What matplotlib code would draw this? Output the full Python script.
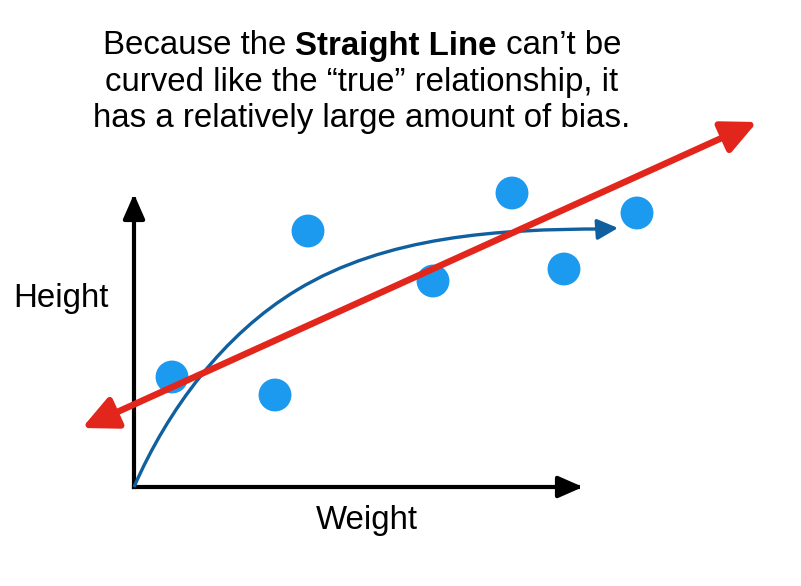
import matplotlib
matplotlib.use("Agg")
import matplotlib.pyplot as plt
from matplotlib.patches import FancyArrowPatch, PathPatch
from matplotlib.path import Path

# data: observed (weight, height) points, in picture units from the axis origin
pts_w = [38, 141, 174, 299, 378, 430, 503]
pts_h = [110, 92, 256, 206, 294, 218, 274]

# the "true" curved relationship: two cubic Bezier pieces (knot, handle, handle, knot, ...)
curve_w = [0, 34, 90, 163, 252, 365, 469]
curve_h = [0, 78, 153, 197, 251, 258, 258]
curve_tip = (484, 259)

# the straight line (double arrow) endpoints
line_w = [-52, 623]
line_h = [59, 365]

# axis arrow extents
x_axis_end = 449
y_axis_end = 293

TITLE = [
    ("Because the ", "Straight Line", " can\u2019t be"),
    "curved like the \u201ctrue\u201d relationship, it",
    "has a relatively large amount of bias.",
]

DOT = "#1b9af0"
CURVE = "#10609f"
RED = "#e3261c"
FONT = "Liberation Sans"
FS = 23.8

fig = plt.figure(figsize=(8.01, 5.86), dpi=100)
ax = fig.add_axes([0, 0, 1, 1])
ax.set_xlim(-134, 801 - 134)
ax.set_ylim(487 - 586, 487)
ax.axis("off")

# axes arrows
for end in [(x_axis_end, 0), (0, y_axis_end)]:
    ax.add_patch(FancyArrowPatch((0, 0), end, arrowstyle="-|>,head_length=0.75,head_width=0.33",
                                 mutation_scale=20, color="black", lw=3, shrinkA=0, shrinkB=0,
                                 capstyle="projecting", zorder=2))

# true curve with arrow tip
codes = [Path.MOVETO] + [Path.CURVE4] * (len(curve_w) - 1)
ax.add_patch(PathPatch(Path(list(zip(curve_w, curve_h)), codes), fill=False,
                       edgecolor=CURVE, lw=2.4, zorder=3))
ax.add_patch(FancyArrowPatch((curve_w[-1], curve_h[-1]), curve_tip,
                             arrowstyle="-|>,head_length=0.7,head_width=0.35",
                             mutation_scale=18, color=CURVE, lw=2.4, shrinkA=0, shrinkB=0, zorder=3))

# data points
ax.scatter(pts_w, pts_h, s=560, color=DOT, edgecolors="none", zorder=4)

# straight line, double-headed
ax.add_patch(FancyArrowPatch((line_w[0], line_h[0]), (line_w[1], line_h[1]),
                             arrowstyle="<|-|>,head_length=1.05,head_width=0.5",
                             mutation_scale=20, color=RED, lw=4.7, shrinkA=0, shrinkB=0, zorder=5))

# labels
ax.text(-73, 189, "Height", fontsize=FS, family=FONT, ha="center", va="center")
ax.text(233, -33, "Weight", fontsize=FS, family=FONT, ha="center", va="center")

# title; first line mixes regular and bold
cx = 228
ys = [441, 404, 368]
r = fig.canvas.get_renderer()
parts = []
for txt, wt in zip(TITLE[0], ["normal", "bold", "normal"]):
    t = ax.text(0, ys[0], txt, fontsize=FS, family=FONT, fontweight=wt, ha="left", va="center")
    parts.append(t)
widths = [p.get_window_extent(r).width for p in parts]
x = cx - sum(widths) / 2
for p, w in zip(parts, widths):
    p.set_x(x)
    x += w
for line, y in zip(TITLE[1:], ys[1:]):
    ax.text(cx, y, line, fontsize=FS, family=FONT, ha="center", va="center")

fig.savefig("out.png", dpi=100)
